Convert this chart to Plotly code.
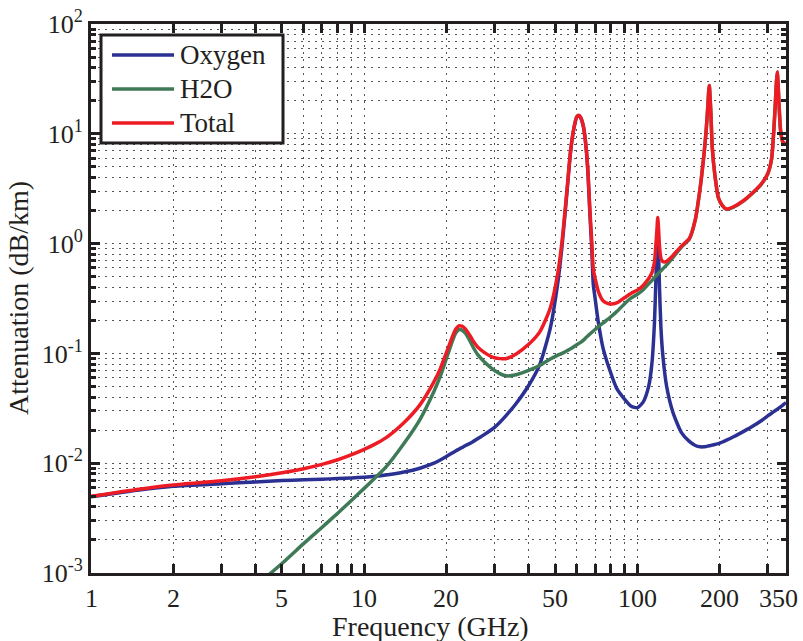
import math
import plotly.graph_objects as go

# ---------------- data ----------------
freq_ghz = [1, 1.5, 2, 3, 4, 5, 6, 7, 8, 9, 10, 11, 12, 14, 16, 18, 19, 20, 21, 21.6,
            22.2, 22.8, 23.5, 24.2, 25, 26, 27.5, 30, 33, 36, 40, 44, 48, 51, 53, 55, 57,
            58.5, 60, 61, 62, 63.5, 65, 66, 67, 68, 69, 70, 72, 75, 79, 84, 90, 95, 100,
            105, 110, 113, 115.5, 117, 118, 118.75, 119.5, 120.5, 122, 124, 128, 135, 145,
            155, 163, 170, 175, 178.5, 181, 183.3, 185.5, 188, 192, 198, 205, 212, 225,
            245, 265, 285, 300, 310, 316, 320, 323, 325.2, 327.5, 331, 334, 338, 343, 350]

oxygen_db_km = [0.00495, 0.0057, 0.00615, 0.0065, 0.00675, 0.00695, 0.00705, 0.00715,
                0.00725, 0.00735, 0.00745, 0.0076, 0.0078, 0.0083, 0.009, 0.0100, 0.0107,
                0.0115, 0.0124, 0.0129, 0.0134, 0.0139, 0.0145, 0.0150, 0.0157, 0.0167,
                0.0182, 0.0212, 0.027, 0.035, 0.051, 0.08, 0.17, 0.42, 0.95, 2.6, 7.0,
                11.0, 14.2, 14.6, 14.0, 11.5, 7.2, 4.2, 1.9, 0.95, 0.42, 0.32, 0.19, 0.11,
                0.072, 0.048, 0.038, 0.033, 0.032, 0.036, 0.05, 0.08, 0.19, 0.5, 0.85, 1.2,
                0.85, 0.4, 0.17, 0.095, 0.05, 0.029, 0.019, 0.0158, 0.0145, 0.0141, 0.0141,
                0.0142, 0.0143, 0.0144, 0.0145, 0.0146, 0.0148, 0.0151, 0.0156, 0.0162,
                0.0174, 0.0195, 0.0218, 0.0245, 0.027, 0.0285, 0.0295, 0.0302, 0.0307,
                0.031, 0.0314, 0.032, 0.0325, 0.0332, 0.0343, 0.0356]

h2o_db_km = [4.5e-5, 1.0e-4, 1.8e-4, 4.1e-4, 7.6e-4, 1.22e-3, 1.85e-3, 2.6e-3, 3.5e-3,
             4.6e-3, 5.9e-3, 7.4e-3, 9.2e-3, 0.0152, 0.025, 0.045, 0.062, 0.09, 0.128,
             0.152, 0.165, 0.163, 0.152, 0.135, 0.115, 0.098, 0.084, 0.07, 0.0625, 0.064,
             0.07, 0.078, 0.089, 0.096, 0.1, 0.105, 0.11, 0.115, 0.12, 0.123, 0.126,
             0.132, 0.14, 0.145, 0.15, 0.155, 0.16, 0.165, 0.175, 0.19, 0.21, 0.24, 0.285,
             0.32, 0.345, 0.38, 0.43, 0.46, 0.49, 0.51, 0.52, 0.53, 0.54, 0.55, 0.565,
             0.59, 0.64, 0.75, 0.93, 1.1, 1.65, 3.3, 6.2, 10.5, 17.5, 27.5, 17.0, 7.5,
             4.3, 2.6, 2.2, 2.05, 2.15, 2.45, 2.9, 3.5, 4.3, 5.9, 11.0, 19.0, 30.0, 36.5,
             28.0, 16.0, 11.0, 9.0, 8.1, 8.3]

total_db_km = [0.00500, 0.0058, 0.00633, 0.00691, 0.00751, 0.00817, 0.0089, 0.00975,
               0.01075, 0.01195, 0.01335, 0.0150, 0.0170, 0.0235, 0.034, 0.055, 0.0727,
               0.1015, 0.1404, 0.1649, 0.1784, 0.1769, 0.1665, 0.150, 0.1307, 0.1147,
               0.1022, 0.0912, 0.0895, 0.099, 0.121, 0.158, 0.259, 0.516, 1.05, 2.705,
               7.11, 11.115, 14.32, 14.723, 14.126, 11.632, 7.34, 4.345, 2.05, 1.105, 0.58,
               0.485, 0.365, 0.30, 0.282, 0.288, 0.323, 0.353, 0.377, 0.416, 0.48, 0.54,
               0.68, 1.01, 1.37, 1.73, 1.39, 0.95, 0.735, 0.685, 0.69, 0.779, 0.949, 1.116,
               1.665, 3.314, 6.214, 10.514, 17.514, 27.514, 17.015, 7.515, 4.315, 2.615,
               2.216, 2.066, 2.167, 2.47, 2.922, 3.525, 4.327, 5.929, 11.03, 19.03, 30.03,
               36.53, 28.03, 16.03, 11.03, 9.03, 8.134, 8.336]

series_names = ["Oxygen", "H2O", "Total"]

x_tick_vals = [1, 2, 5, 10, 20, 50, 100, 200, 350]
x_tick_text = ["1", "2", "5", "10", "20", "50", "100", "200", "350"]
x_minor_vals = [3, 4, 6, 7, 8, 9, 30, 40, 60, 70, 80, 90, 300]

y_tick_vals = [1e-3, 1e-2, 1e-1, 1, 10, 100]
y_tick_text = ["10<sup>-3</sup>", "10<sup>-2</sup>", "10<sup>-1</sup>",
               "10<sup>0</sup>", "10<sup>1</sup>", "10<sup>2</sup>"]
y_minor_vals = [k * 10.0 ** d for d in range(-3, 2) for k in range(2, 10)]

x_title = "Frequency (GHz)"
y_title = "Attenuation (dB/km)"

# ---------------- styling ----------------
colors = ["#2b3192", "#3f7a57", "#ed1c24"]
FONT = "Liberation Serif, Times New Roman, serif"
FS_TICK = 26
FS_TITLE = 28
FS_LEG = 27
TXT = "#231f20"
W, H = 803, 641
L, R, T, B = 91, 17, 24, 68
PW, PH = W - L - R, H - T - B


def px2x(px):
    return (px - L) / PW


def px2y(py):
    return 1 - (py - T) / PH


fig = go.Figure()
for name, ys, c in zip(series_names, [oxygen_db_km, h2o_db_km, total_db_km], colors):
    fig.add_trace(go.Scatter(x=freq_ghz, y=ys, mode="lines", name=name,
                             line=dict(color=c, width=3.5, shape="spline", smoothing=0.6),
                             showlegend=False))

grid_common = dict(showgrid=True, gridcolor="#555555", gridwidth=1, griddash="2px,5px")

# x tick labels are placed as annotations at the axis' own (log) positions
fig.update_xaxes(type="log", range=[0, 2.5441],
                 tickmode="array", tickvals=x_tick_vals[:-1], showticklabels=False,
                 ticks="inside", ticklen=9, tickwidth=2.5, tickcolor="#231f20",
                 showline=True, linewidth=3, linecolor="#231f20", mirror="ticks",
                 zeroline=False, automargin=False,
                 minor=dict(tickmode="array", tickvals=x_minor_vals, ticks="inside",
                            ticklen=9, tickwidth=2.5, tickcolor="#231f20", **grid_common),
                 **grid_common)

fig.update_yaxes(type="log", range=[-3, 2],
                 tickmode="array", tickvals=y_tick_vals, ticktext=y_tick_text,
                 ticklabeloverflow="allow",
                 ticks="inside", ticklen=9, tickwidth=2.5, tickcolor="#231f20",
                 showline=True, linewidth=3, linecolor="#231f20", mirror="ticks",
                 tickfont=dict(family=FONT, size=FS_TICK, color=TXT),
                 zeroline=False, automargin=False,
                 minor=dict(tickmode="array", tickvals=y_minor_vals, ticks="inside",
                            ticklen=5, tickwidth=2.5, tickcolor="#231f20", **grid_common),
                 **grid_common)

# ---------------- legend (drawn as box + samples + text) and titles ----------------
shapes = [dict(type="rect", xref="paper", yref="paper",
               x0=px2x(101), x1=px2x(283), y0=px2y(143), y1=px2y(35),
               line=dict(color="#231f20", width=3), fillcolor="white", layer="above")]
annotations = [
    dict(xref="paper", yref="paper", x=px2x(18), y=px2y(298),
         xanchor="center", yanchor="middle", textangle=-90, text=y_title,
         showarrow=False, font=dict(family=FONT, size=FS_TITLE, color=TXT)),
    dict(xref="paper", yref="paper", x=px2x(430), y=px2y(626),
         xanchor="center", yanchor="middle", text=x_title,
         showarrow=False, font=dict(family=FONT, size=FS_TITLE, color=TXT)),
]
for i, (v, t) in enumerate(zip(x_tick_vals, x_tick_text)):
    last = i == len(x_tick_vals) - 1
    annotations.append(dict(xref="x", yref="paper", x=math.log10(v), y=px2y(598),
                            xanchor="center", yanchor="middle", xshift=-7 if last else 0,
                            text=t, showarrow=False,
                            font=dict(family=FONT, size=FS_TICK, color=TXT)))

row_y = [55, 89, 123]
for name, c, ry in zip(series_names, colors, row_y):
    shapes.append(dict(type="line", xref="paper", yref="paper",
                       x0=px2x(112), x1=px2x(174), y0=px2y(ry), y1=px2y(ry),
                       line=dict(color=c, width=3.5), layer="above"))
    annotations.append(dict(xref="paper", yref="paper", x=px2x(178), y=px2y(ry),
                            xanchor="left", yanchor="middle", text=name, showarrow=False,
                            font=dict(family=FONT, size=FS_LEG, color=TXT)))

fig.update_layout(width=W, height=H, margin=dict(l=L, r=R, t=T, b=B),
                  paper_bgcolor="white", plot_bgcolor="white",
                  shapes=shapes, annotations=annotations, showlegend=False)

fig.write_html("out.html")
